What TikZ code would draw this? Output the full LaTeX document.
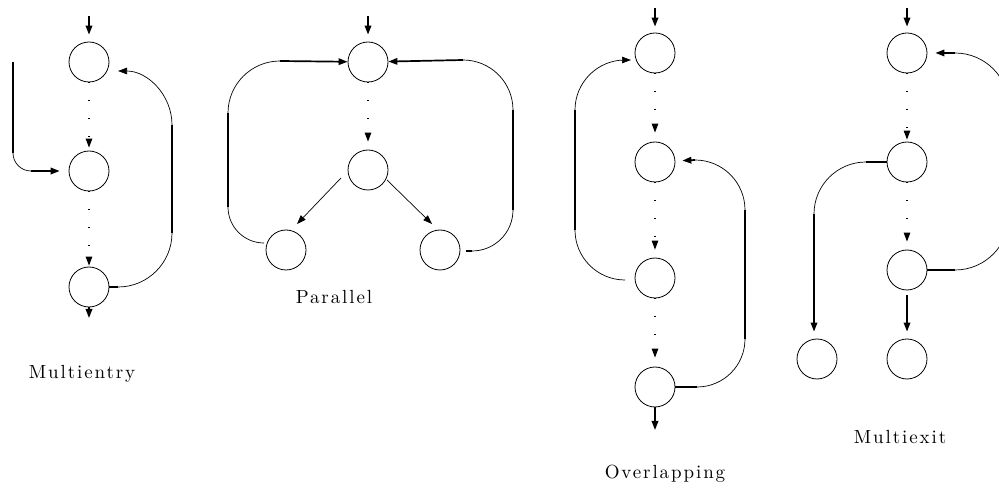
\documentclass[tikz,border=0pt]{standalone}
\usepackage{fontspec}
\newfontfamily\labfont[LetterSpace=10]{lmroman10-regular.otf}
\usetikzlibrary{arrows.meta}
\begin{document}
\begin{tikzpicture}[x=1pt,y=1pt,
  nd/.style={circle,draw,line width=0.8pt,minimum size=40pt,inner sep=0pt},
  thk/.style={line width=1.7pt},
  thn/.style={line width=0.7pt},
  tip/.style={-{Triangle[length=9pt,width=6.5pt]}},
  dots/.style={line width=1.1pt,dash pattern=on 1.1pt off 16.9pt,-{Triangle[length=9pt,width=6.5pt]}},
  lab/.style={font=\labfont\fontsize{19}{22}\selectfont,inner sep=0pt}]
\useasboundingbox (0,0) rectangle (999,493);
\clip (0,0) rectangle (999,493);
% ---------------- Multientry
\node[nd] (m1) at (89,431) {};
\node[nd] (m2) at (89,322) {};
\node[nd] (m3) at (89,206) {};
\coordinate (mtop) at (89,477);
\coordinate (mbot) at (89,175);
\draw[thk,tip,shorten >=7pt] (mtop) -- (m1);
\draw[dots,shorten >=3pt] (m1) -- (m2);
\draw[dots,shorten >=1pt] (m2) -- (m3);
\draw[thk,tip] (m3) -- (mbot);
\coordinate (me0) at (13,431);
\coordinate (me1) at (13,340);
\coordinate (me2) at (31,322);
\draw[thk] (me0) -- (me1);
\draw[thn] (me1) arc[start angle=180,end angle=270,radius=18];
\draw[thk,tip,shorten >=9pt] (me2) -- (m2);
\coordinate (mb0) at (118,206);
\draw[thk] (m3.east) -- (mb0);
\draw[thn] (mb0) arc[start angle=270,end angle=360,radius=54] coordinate (mb1);
\coordinate (mb2) at (172,368);
\draw[thk] (mb1) -- (mb2);
\draw[thn,tip] (mb2) arc[start angle=0,end angle=90,radius=54];
\node[lab] (lm) at (82,119) {Multientry};
% ---------------- Parallel
\node[nd] (p1) at (368,431) {};
\node[nd] (p2) at (368,323) {};
\node[nd] (p3) at (286,243) {};
\node[nd] (p4) at (440,243) {};
\coordinate (ptop) at (368,477);
\draw[thk,tip,shorten >=7pt] (ptop) -- (p1);
\draw[dots,shorten >=8pt] (p1) -- (p2);
\coordinate (pa) at (341,315);
\coordinate (pat) at (297,269);
\coordinate (pb) at (387,313);
\coordinate (pbt) at (432,269);
\draw[thn,tip] (pa) -- (pat);
\draw[thn,tip] (pb) -- (pbt);
\coordinate (pl1) at (228,286);
\coordinate (pl2) at (228,380);
\draw[thn] (pl1) arc[start angle=180,end angle=270,radius=36];
\draw[thk] (pl1) -- (pl2);
\draw[thn] (pl2) arc[start angle=180,end angle=90,radius=52] coordinate (pl3);
\draw[thk,tip] (pl3) -- (p1);
\coordinate (pr0) at (466,242);
\coordinate (pr1) at (472,242);
\draw[thk] (pr0) -- (pr1);
\draw[thn] (pr1) arc[start angle=270,end angle=360,radius=41] coordinate (pr2);
\coordinate (pr3) at (513,383);
\draw[thk] (pr2) -- (pr3);
\draw[thn] (pr3) arc[start angle=0,end angle=90,radius=50] coordinate (pr4);
\draw[thk,tip] (pr4) -- (p1);
\node[lab] (lp) at (334,196) {Parallel};
% ---------------- Overlapping
\node[nd] (o1) at (655,440) {};
\node[nd] (o2) at (655,331) {};
\node[nd] (o3) at (655,215) {};
\node[nd] (o4) at (655,106) {};
\coordinate (otop) at (655,485);
\coordinate (obot) at (655,63);
\draw[thk,tip,shorten >=6pt] (otop) -- (o1);
\draw[dots,shorten >=9pt] (o1) -- (o2);
\draw[dots,shorten >=8pt] (o2) -- (o3);
\draw[dots,shorten >=9pt] (o3) -- (o4);
\draw[thk,tip] (o4) -- (obot);
\coordinate (ol0) at (625,213);
\draw[thn] (ol0) arc[start angle=270,end angle=180,radius=50] coordinate (ol1);
\coordinate (ol2) at (575,383);
\coordinate (ol4) at (631,433);
\draw[thk] (ol1) -- (ol2);
\draw[thn,tip] (ol2) arc[start angle=180,end angle=90,radius=50] -- (ol4);
\coordinate (or0) at (697,106);
\draw[thk] (o4.east) -- (or0);
\draw[thn] (or0) arc[start angle=270,end angle=360,radius=48] coordinate (or1);
\coordinate (or2) at (745,283);
\draw[thk] (or1) -- (or2);
\draw[thn] (or2) arc[start angle=0,end angle=90,radius=50] coordinate (or3);
\draw[thk,tip,shorten >=7pt] (or3) -- (o2);
\node[lab] (lo) at (665,19) {Overlapping};
% ---------------- Multiexit
\node[nd] (x1) at (907,440) {};
\node[nd] (x2) at (907,331) {};
\node[nd] (x3) at (907,223) {};
\node[nd] (x4) at (907,134) {};
\node[nd] (x5) at (817,134) {};
\coordinate (xtop) at (907,485);
\draw[thk,tip,shorten >=6pt] (xtop) -- (x1);
\draw[dots,shorten >=2pt] (x1) -- (x2);
\draw[dots,shorten >=8pt] (x2) -- (x3);
\draw[thk,tip,shorten <=5pt,shorten >=7pt] (x3) -- (x4);
\coordinate (xl0) at (866,331);
\draw[thk] (x2.west) -- (xl0);
\draw[thn] (xl0) arc[start angle=90,end angle=180,radius=52] coordinate (xl1);
\draw[thk,tip,shorten >=7pt] (xl1) -- (xl1 |- x5.north);
\coordinate (xr0) at (955,223);
\draw[thk] (x3.east) -- (xr0);
\draw[thn] (xr0) arc[start angle=270,end angle=360,radius=54] coordinate (xr1);
\coordinate (xr2) at (1009,386);
\draw[thk] (xr1) -- (xr2);
\draw[thn] (xr2) arc[start angle=0,end angle=90,radius=54] coordinate (xr3);
\draw[thk,tip,shorten >=8pt] (xr3) -- (x1);
\node[lab] (lx) at (900,56) {Multiexit};
\end{tikzpicture}
\end{document}
